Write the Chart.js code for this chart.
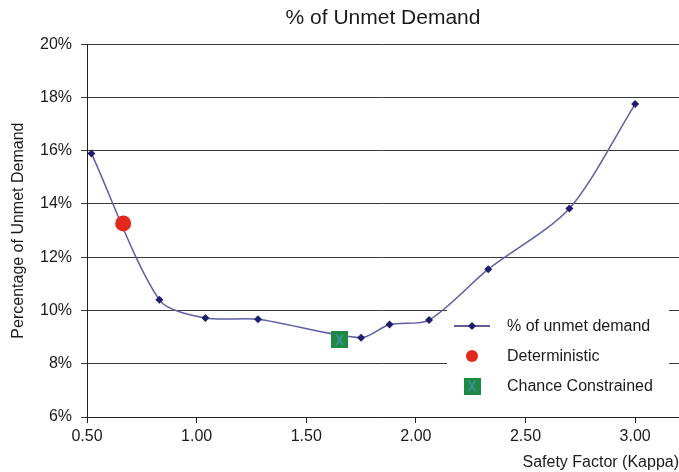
<!DOCTYPE html>
<html lang="en">
<head>
  <meta charset="UTF-8">
  <title>% of Unmet Demand</title>
  <script src="https://cdn.jsdelivr.net/npm/chart.js"></script>
  <style>
    body { margin: 0; background: #fff; }
  </style>
</head>
<body>
  <div style="width: 679px; height: 472px;">
    <canvas id="lineChart"></canvas>
  </div>

  <script>
    // values (percent)
    const kappa = [0.52, 0.83, 1.04, 1.28, 1.75, 1.88, 2.06, 2.33, 2.70, 3.00];
    const unmetDemand = [15.9, 10.4, 9.72, 9.67, 8.98, 9.47, 9.64, 11.55, 13.83, 17.75];
    const deterministicKappa = [0.665];
    const deterministicValue = [13.27];
    const chanceKappa = [1.652];
    const chanceValue = [8.9];
    const xTicks = [0.5, 1.0, 1.5, 2.0, 2.5, 3.0];
    const yTicks = [6, 8, 10, 12, 14, 16, 18, 20];

    const FONT = '"Liberation Sans", Arial, Helvetica, sans-serif';

    // green square with a thin cross, like the excel marker
    function squareMarker(size) {
      const c = document.createElement('canvas');
      c.width = size;
      c.height = size;
      const g = c.getContext('2d');
      g.fillStyle = '#1c8a45';
      g.fillRect(0, 0, size, size);
      g.strokeStyle = '#4f93c0';
      g.lineWidth = 1.2;
      g.beginPath();
      g.moveTo(5, 3); g.lineTo(size - 5, size - 3);
      g.moveTo(size - 5, 3); g.lineTo(5, size - 3);
      g.stroke();
      return c;
    }

    const toPoints = (xs, ys) => xs.map((x, i) => ({ x: x, y: ys[i] }));

    // legend drawn inside the plot, bottom right, on a white patch
    const legendInside = {
      id: 'legendInside',
      beforeDatasetsDraw(chart) {
        const ctx = chart.ctx;
        ctx.save();
        ctx.fillStyle = '#ffffff';
        ctx.fillRect(447, 305, 222, 97);
        ctx.restore();
      },
      afterDatasetsDraw(chart) {
        const ctx = chart.ctx;
        const rows = [326, 356, 386];
        ctx.save();
        ctx.font = '16px ' + FONT;
        ctx.textBaseline = 'middle';
        ctx.textAlign = 'left';
        chart.data.datasets.forEach((ds, i) => {
          const y = rows[i];
          if (ds.showLine) {
            ctx.strokeStyle = '#2c2a78';
            ctx.lineWidth = 1.5;
            ctx.beginPath();
            ctx.moveTo(454, y);
            ctx.lineTo(490, y);
            ctx.stroke();
          }
          ctx.fillStyle = ds.pointBackgroundColor;
          ctx.strokeStyle = ds.pointBorderColor;
          Chart.helpers.drawPoint(ctx, {
            pointStyle: ds.pointStyle,
            radius: ds.legendRadius,
            rotation: 0,
            borderWidth: 0
          }, 472, y);
          ctx.fillStyle = '#1a1a1a';
          ctx.fillText(ds.label, 507, y + 1);
        });
        ctx.restore();
      }
    };

    const data = {
      datasets: [
        {
          label: '% of unmet demand',
          data: toPoints(kappa, unmetDemand),
          showLine: true,
          tension: 0.28,
          borderColor: '#5f5ea8',
          borderWidth: 1.5,
          pointStyle: 'rectRot',
          pointRadius: 4,
          pointBackgroundColor: '#1f1c6b',
          pointBorderColor: '#1f1c6b',
          pointBorderWidth: 0,
          legendRadius: 4,
          order: 3
        },
        {
          label: 'Deterministic',
          data: toPoints(deterministicKappa, deterministicValue),
          showLine: false,
          pointStyle: 'circle',
          pointRadius: 8,
          pointBackgroundColor: '#e3281e',
          pointBorderColor: '#e3281e',
          pointBorderWidth: 0,
          legendRadius: 6,
          order: 1
        },
        {
          label: 'Chance Constrained',
          data: toPoints(chanceKappa, chanceValue),
          showLine: false,
          pointStyle: squareMarker(17),
          pointRadius: 9,
          pointBackgroundColor: '#1c8a45',
          pointBorderColor: '#1c8a45',
          pointBorderWidth: 0,
          legendRadius: 9,
          order: 2
        }
      ]
    };

    const config = {
      type: 'scatter',
      data: data,
      plugins: [legendInside],
      options: {
        responsive: true,
        maintainAspectRatio: false,
        animation: false,
        layout: { padding: 0, autoPadding: false },
        plugins: {
          legend: { display: false },
          tooltip: { enabled: false },
          title: {
            display: true,
            fullSize: false,
            text: '% of Unmet Demand',
            color: '#1a1a1a',
            font: { family: FONT, size: 21, weight: 'normal' },
            padding: { top: 6, bottom: 13 }
          }
        },
        scales: {
          x: {
            type: 'linear',
            min: 0.5,
            max: 3.2,
            afterBuildTicks: axis => { axis.ticks = xTicks.map(v => ({ value: v })); },
            afterFit: axis => { axis.height = 55; },
            ticks: {
              color: '#1a1a1a',
              padding: 4,
              font: { family: FONT, size: 16 },
              callback: value => Number(value).toFixed(2)
            },
            grid: {
              drawOnChartArea: false,
              drawTicks: true,
              tickLength: 6,
              color: '#222'
            },
            border: { display: true, color: '#222', width: 1 },
            title: {
              display: true,
              text: 'Safety Factor (Kappa)',
              align: 'end',
              color: '#1a1a1a',
              font: { family: FONT, size: 16 },
              padding: 0
            }
          },
          y: {
            min: 6,
            max: 20,
            afterBuildTicks: axis => { axis.ticks = yTicks.map(v => ({ value: v })); },
            afterFit: axis => { axis.width = 87; },
            ticks: {
              color: '#1a1a1a',
              padding: 9,
              font: { family: FONT, size: 16 },
              callback: value => value + '%'
            },
            grid: {
              color: '#3a3a3a',
              lineWidth: 1,
              tickLength: 6
            },
            border: { display: true, color: '#222', width: 1 },
            title: {
              display: true,
              text: 'Percentage of Unmet Demand',
              color: '#1a1a1a',
              font: { family: FONT, size: 16 },
              padding: { top: 9, bottom: 0 }
            }
          }
        }
      }
    };

    new Chart(document.getElementById('lineChart'), config);
  </script>
</body>
</html>
